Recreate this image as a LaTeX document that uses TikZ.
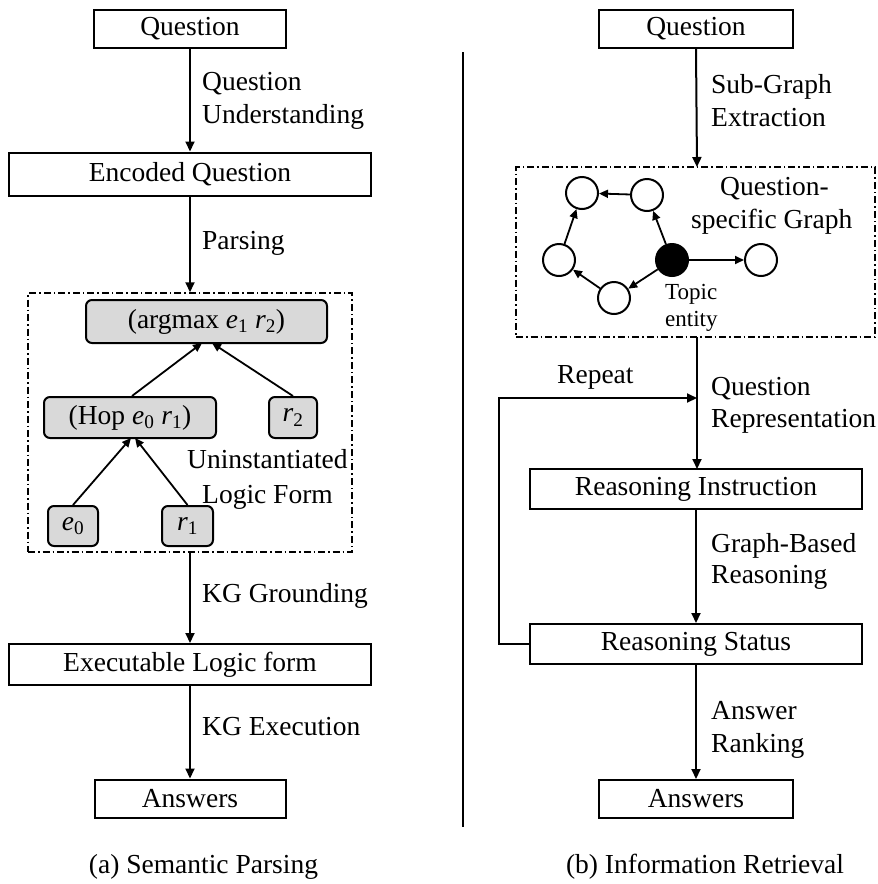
\documentclass[tikz,border=0pt]{standalone}
\usepackage{fontspec}
\setmainfont{Liberation Serif}
\usetikzlibrary{arrows.meta}
\newcommand\sv[2]{\textit{#1}\textsubscript{#2}}
\begin{document}
\begin{tikzpicture}[x=1pt,y=-1pt,
  every node/.style={font=\fontsize{27.5}{33}\selectfont, inner sep=0pt},
  box/.style={draw, line width=2pt, rectangle},
  lbox/.style={draw, line width=2pt, rectangle, rounded corners=6pt, fill=gray!30},
  dbox/.style={draw, line width=1.5pt, rectangle, dash pattern=on 7pt off 3pt on 1.5pt off 3pt},
  lab/.style={anchor=base west},
  circ/.style={draw, line width=2pt, circle, minimum size=32pt},
  arr/.style={line width=2pt, -{Triangle[length=10pt,width=9pt]}},
  tarr/.style={line width=1.8pt, -{Triangle[length=9pt,width=8pt]}}
]
\useasboundingbox (0,0) rectangle (878,884);

% ---------- (a) semantic parsing ----------
\node[box, minimum width=192pt, minimum height=38pt] (qa) at (190,29) {Question};
\node[box, minimum width=362pt, minimum height=43pt] (enc) at (190,174) {Encoded Question};
\node[dbox, minimum width=324pt, minimum height=259pt] (lf) at (190,422.5) {};
\node[lbox, minimum width=241pt, minimum height=43pt] (amax) at (206.5,321.5) {(argmax \sv{e}{1} \sv{r}{2})};
\node[lbox, minimum width=172pt, minimum height=41pt] (hop) at (130,417.5) {(Hop \sv{e}{0} \sv{r}{1})};
\node[lbox, minimum width=48pt, minimum height=41pt] (rt) at (293,417.5) {\sv{r}{2}};
\node[lbox, minimum width=50pt, minimum height=40pt] (ez) at (73,526) {\sv{e}{0}};
\node[lbox, minimum width=51pt, minimum height=40pt] (ro) at (187.5,526) {\sv{r}{1}};
\node[box, minimum width=362pt, minimum height=41pt] (exe) at (190,664.5) {Executable Logic form};
\node[box, minimum width=191pt, minimum height=38pt] (ansa) at (190,798.5) {Answers};

\draw[arr] (qa.south) -- (enc.north);
\draw[arr] (enc.south) -- (lf.north);
\draw[arr] (lf.south) -- (exe.north);
\draw[arr] (exe.south) -- (ansa.north);

% tree edges of the logic form
\draw[tarr] (hop.north) ++(2,0) coordinate (h1) (h1) -- (202,343) coordinate (a1);
\draw[tarr] (rt.north) -- (212,343) coordinate (a2);
\draw[tarr] (ez.north) -- (131,438) coordinate (b1);
\draw[tarr] (ro.north) -- (135,438) coordinate (b2);

\node[lab] (la1) at (202,90) {Question};
\node[lab] (la2) at (202,123) {Understanding};
\node[lab] (la3) at (202,249) {Parsing};
\node[lab] (la4) at (187,468) {Uninstantiated};
\node[lab] (la5) at (202,503) {Logic Form};
\node[lab] (la6) at (202,602) {KG Grounding};
\node[lab] (la7) at (202,735) {KG Execution};
\node[anchor=base] (capa) at (203.5,873) {(a) Semantic Parsing};

% ---------- divider ----------
\coordinate (dt) at (463,52);
\coordinate (db) at (463,827);
\draw[line width=2pt] (dt) -- (db);

% ---------- (b) information retrieval ----------
\node[box, minimum width=194pt, minimum height=38pt] (qb) at (696,29) {Question};
\node[dbox, minimum width=359pt, minimum height=170pt] (sg) at (695.5,252) {};
\node[box, minimum width=332pt, minimum height=40pt] (ri) at (696,489) {Reasoning Instruction};
\node[box, minimum width=332pt, minimum height=40pt] (rs) at (696,644) {Reasoning Status};
\node[box, minimum width=194pt, minimum height=38pt] (ansb) at (696,799) {Answers};

\draw[arr] (qb.south) -- (697,167) coordinate (sgt);
\draw[arr] (697,337) coordinate (sgb) -- (697,469);
\draw[arr] (ri.south) -- (rs.north);
\draw[arr] (rs.south) -- (ansb.north);

% repeat loop
\coordinate (lpa) at (499,644);
\coordinate (lpb) at (499,398);
\coordinate (lpc) at (697,398);
\draw[arr] (rs.west) -- (lpa) -- (lpb) -- (lpc);
\node[lab] (rep) at (557,383) {Repeat};

% question-specific graph
\node[circ] (c1) at (582,193) {};
\node[circ] (c2) at (647,195) {};
\node[circ] (c3) at (559,260) {};
\node[circ, fill=black] (tp) at (672,260) {};
\node[circ] (c5) at (761,260) {};
\node[circ] (c4) at (614,298) {};
\draw[tarr] (c2) -- (c1);
\draw[tarr] (tp) -- (c2);
\draw[tarr] (c3) -- (c1);
\draw[tarr] (c4) -- (c3);
\draw[tarr] (tp) -- (c4);
\draw[tarr] (tp) -- (c5);

\node[lab] (g1) at (720,195) {Question-};
\node[lab] (g2) at (691,228) {specific Graph};
\node[lab, font=\fontsize{23}{27}\selectfont] (te1) at (665,299) {Topic};
\node[lab, font=\fontsize{23}{27}\selectfont] (te2) at (665,326) {entity};

\node[lab] (lb1) at (711,93) {Sub-Graph};
\node[lab] (lb2) at (711,126) {Extraction};
\node[lab] (lb3) at (711,395) {Question};
\node[lab] (lb4) at (711,427) {Representation};
\node[lab] (lb5) at (711,552) {Graph-Based};
\node[lab] (lb6) at (711,583) {Reasoning};
\node[lab] (lb7) at (711,719) {Answer};
\node[lab] (lb8) at (711,752) {Ranking};
\node[anchor=base] (capb) at (705,873) {(b) Information Retrieval};
\end{tikzpicture}
\end{document}
